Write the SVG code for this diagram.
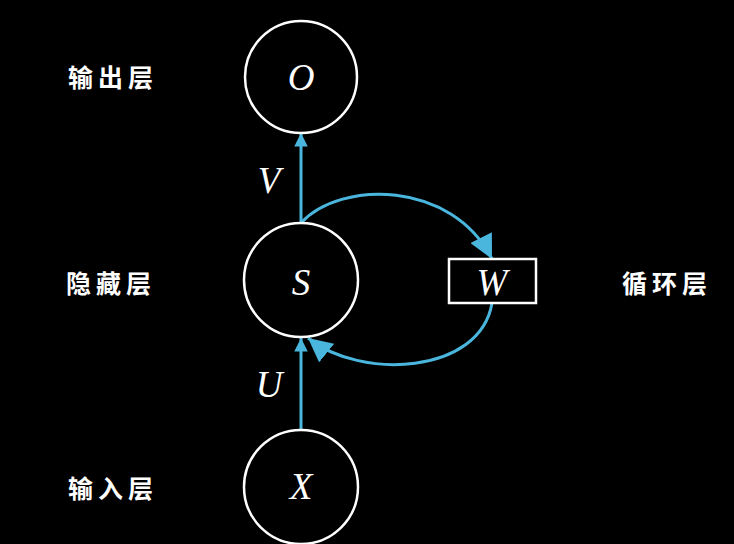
<svg xmlns="http://www.w3.org/2000/svg" width="734" height="544" viewBox="0 0 734 544">
<defs>
<style>
.node{fill:none;stroke:#ffffff;stroke-width:2.5}
.var{font-family:"Liberation Serif","DejaVu Serif",serif;font-style:italic;font-size:37px;fill:#ffffff;text-anchor:middle}
.cn{font-family:"Noto Sans CJK SC",sans-serif;font-weight:bold;font-size:25px;fill:#ffffff;letter-spacing:5px}
.edge{fill:none;stroke:#4ab6de;stroke-width:3}
</style>
<marker id="ah" viewBox="0 0 10 10" refX="10" refY="5" markerWidth="8" markerHeight="8" orient="auto" markerUnits="strokeWidth">
<path d="M0,0 L10,5 L0,10 z" fill="#4ab6de"/>
</marker>
<marker id="ahs" viewBox="0 0 10 10" refX="10" refY="5" markerWidth="4.5" markerHeight="4.5" orient="auto" markerUnits="strokeWidth">
<path d="M0,0 L10,5 L0,10 z" fill="#4ab6de"/>
</marker>
</defs>
<rect width="734" height="544" fill="#000000"/>
<g id="connectors">
<path class="edge" d="M301,223 L301,133" marker-end="url(#ahs)"/>
<path class="edge" d="M301,430 L301,338" marker-end="url(#ahs)"/>
<path class="edge" d="M301,223 C340,180 452,180 492,259" marker-end="url(#ah)"/>
<path class="edge" d="M492,303 C480,375 360,380 308,338" marker-end="url(#ah)"/>
<text class="var" x="269" y="193" font-size="35">V</text>
<text class="var" x="269" y="397" font-size="35">U</text>
</g>
<g id="node-O">
<circle class="node" cx="301" cy="77" r="56"/>
<text class="var" x="301" y="90">O</text>
</g>
<g id="node-S">
<circle class="node" cx="301" cy="280" r="57"/>
<text class="var" x="301" y="295">S</text>
</g>
<g id="node-X">
<circle class="node" cx="301" cy="487" r="57"/>
<text class="var" x="301" y="499">X</text>
</g>
<g id="node-W">
<rect class="node" x="449" y="259" width="87" height="44"/>
<text class="var" x="492" y="295">W</text>
</g>
<g id="labels">
<text class="cn" x="68" y="87">输出层</text>
<text class="cn" x="66" y="293">隐藏层</text>
<text class="cn" x="68" y="498">输入层</text>
<text class="cn" x="622" y="293">循环层</text>
</g>
</svg>
